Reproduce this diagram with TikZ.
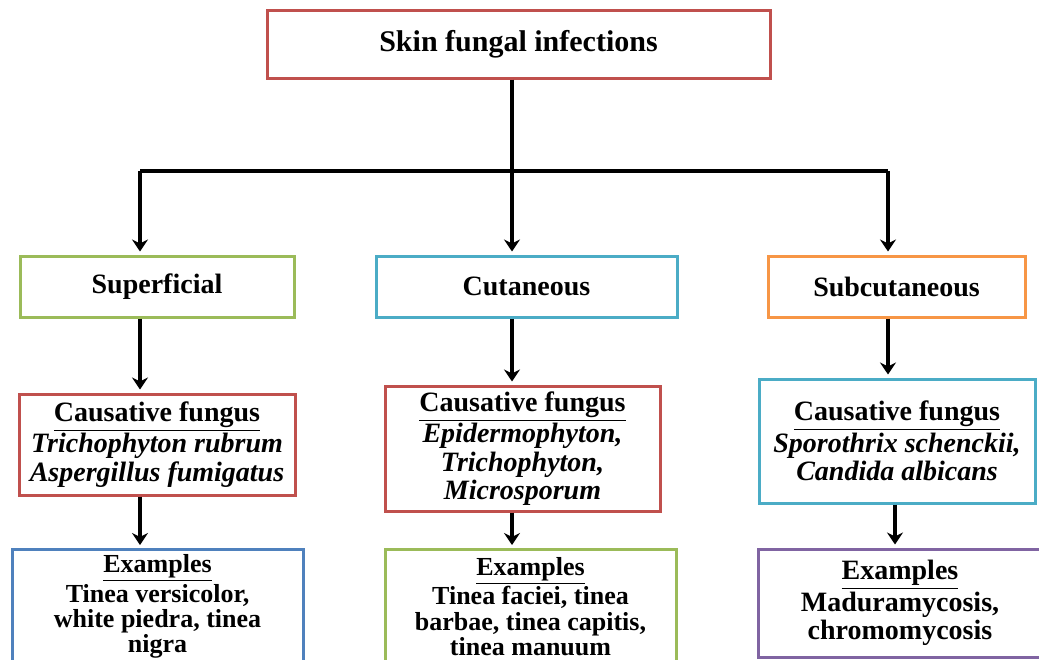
\documentclass[tikz,border=0pt]{standalone}
\usepackage{fontspec}
\setmainfont{Liberation Serif}
\usepackage{tikz}
\usetikzlibrary{arrows.meta,positioning,calc}
\definecolor{boxred}{RGB}{192,80,77}
\definecolor{boxgreen}{RGB}{155,187,89}
\definecolor{boxcyan}{RGB}{75,172,198}
\definecolor{boxorange}{RGB}{247,150,70}
\definecolor{boxpurple}{RGB}{128,100,162}
\definecolor{boxblue}{RGB}{79,129,189}

\begin{document}
\begin{tikzpicture}[x=0.5pt,y=-0.5pt,
    font=\bfseries\fontsize{14}{14.2}\selectfont,
    box/.style={draw,line width=1.5pt,fill=white,align=center,inner sep=2pt},
    exbox/.style={box,anchor=north,inner ysep=1.5pt,font=\bfseries\fontsize{13}{12.7}\selectfont},
    link/.style={line width=1.6pt,-{Stealth[length=6pt,width=8pt,inset=2pt]},shorten >=1.5pt}]
      \useasboundingbox (0,0) rectangle (1039,659);
      \clip (0,0) rectangle (1039,659);
      % levels
      \node[box,draw=boxred,minimum width=251.5pt,minimum height=34pt,
        font=\bfseries\fontsize{15}{15}\selectfont] (top) at (518.5,44) {Skin fungal infections};
      \node[box,draw=boxgreen,minimum width=137pt,minimum height=30.5pt] (sup) at (157,286.5) {Superficial};
      \node[box,draw=boxcyan,minimum width=150.5pt,minimum height=30.5pt] (cut) at (526.5,286.5) {Cutaneous};
      \node[box,draw=boxorange,minimum width=128.5pt,minimum height=30.5pt] (sub) at (896.5,286.5) {Subcutaneous};
      \node[box,draw=boxred,minimum width=138pt,minimum height=50.5pt] (csup) at (157,444.5)
        {\underline{Causative fungus}\\ \textit{Trichophyton rubrum}\\ \textit{Aspergillus fumigatus}};
      \node[box,draw=boxred,minimum width=137.5pt,minimum height=62.5pt] (ccut) at (522.5,448.5)
        {\underline{Causative fungus}\\ \textit{Epidermophyton,}\\ \textit{Trichophyton,}\\ \textit{Microsporum}};
      \node[box,draw=boxcyan,minimum width=138pt,minimum height=62pt] (csub) at (897,441)
        {\underline{Causative fungus}\\ \textit{Sporothrix schenckii,}\\ \textit{Candida albicans}};
      \node[exbox,draw=boxblue,minimum width=145.5pt,minimum height=57pt] (esup) at (157.5,548)
        {\underline{Examples}\\ Tinea versicolor,\\ white piedra, tinea\\ nigra};
      \node[exbox,draw=boxgreen,minimum width=145.5pt,minimum height=57pt] (ecut) at (530.5,548)
        {\underline{Examples}\\ Tinea faciei, tinea\\ barbae, tinea capitis,\\ tinea manuum};
      \node[box,draw=boxpurple,minimum width=142pt,minimum height=54pt] (esub) at (900,603)
        {\underline{Examples}\\ Maduramycosis,\\ chromomycosis};
      % connectors
      \coordinate (split) at (512,171);
      \coordinate (sl) at (140,171);
      \coordinate (sr) at (888,171);
      \coordinate (sr2) at (895,171);
      \draw[line width=1.6pt] (top.south -| split) -- (split);
      \draw[line width=1.6pt] (sl) -- (sr);
      \draw[link] (sl) -- (sl |- sup.north);
      \draw[link] (split) -- (split |- cut.north);
      \draw[link] (sr) -- (sr |- sub.north);
      \draw[link] (sup.south -| sl) -- (csup.north -| sl);
      \draw[link] (cut.south -| split) -- (ccut.north -| split);
      \draw[link] (sub.south -| sr) -- (csub.north -| sr);
      \draw[link] (csup.south -| sl) -- (esup.north -| sl);
      \draw[link] (ccut.south -| split) -- (ecut.north -| split);
      \draw[link] (csub.south -| sr2) -- (esub.north -| sr2);
    \end{tikzpicture}
\end{document}
